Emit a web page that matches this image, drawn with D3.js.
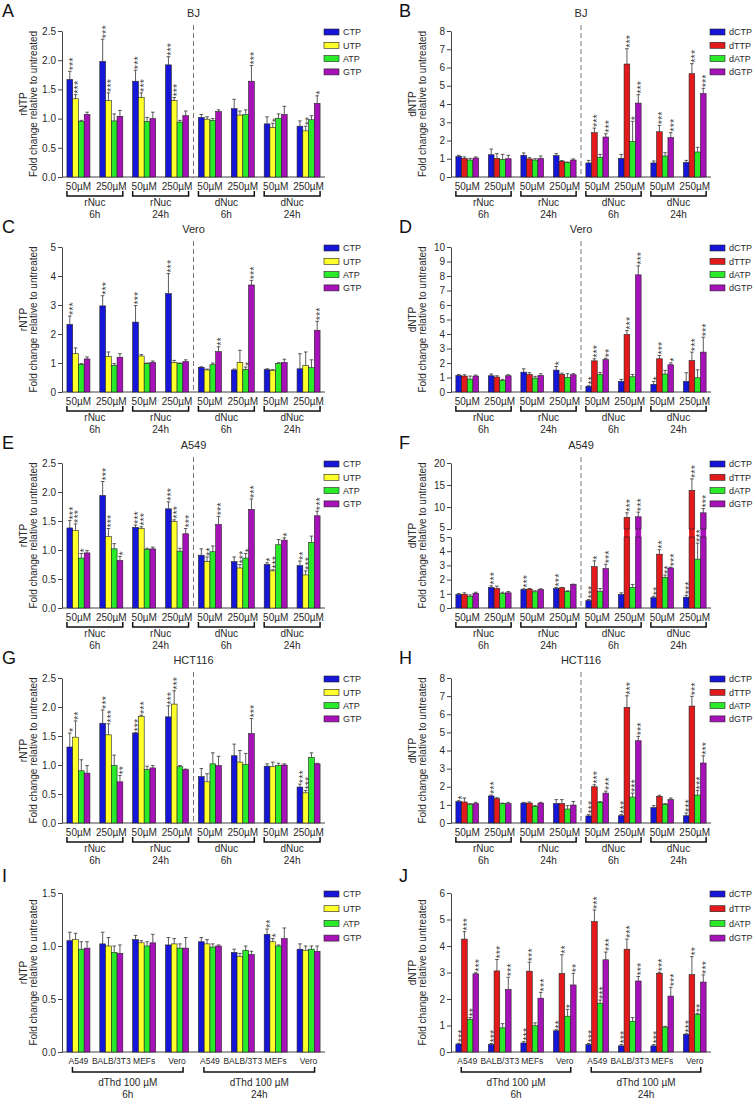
<!DOCTYPE html>
<html>
<head>
<meta charset="utf-8">
<script src="https://cdn.jsdelivr.net/npm/d3@7"></script>
<style>
  body { margin: 0; background: #fff; }
  svg { font-family: "Liberation Sans", Arial, sans-serif; }
</style>
</head>
<body>
<div class="plot"></div>
<script>
// categories and labels
const doses = ["50µM", "250µM", "50µM", "250µM", "50µM", "250µM", "50µM", "250µM"];
const treatments = ["rNuc", "rNuc", "dNuc", "dNuc"];
const times = ["6h", "24h", "6h", "24h"];
const cellLines = ["A549", "BALB/3T3", "MEFs", "Vero", "A549", "BALB/3T3", "MEFs", "Vero"];
const dthdLabels = ["dThd 100 µM", "dThd 100 µM"];
const dthdTimes = ["6h", "24h"];
const rntpSeries = ["CTP", "UTP", "ATP", "GTP"];
const dntpSeries = ["dCTP", "dTTP", "dATP", "dGTP"];
const rntpColors = ["#1616d9", "#ffff2a", "#2aeb2a", "#a612b8"];
const dntpColors = ["#1616d9", "#e3191b", "#2aeb2a", "#a612b8"];

// A - BJ rNTP
const bjRntp = [
    [1.67, 1.98, 1.64, 1.92, 1.02, 1.17, 0.91, 0.87],
    [1.34, 1.31, 1.36, 1.31, 0.99, 1.06, 0.85, 0.79],
    [0.95, 0.96, 0.95, 0.94, 0.97, 1.07, 1.00, 0.98],
    [1.07, 1.04, 1.00, 1.05, 1.12, 1.64, 1.07, 1.26]
];
const bjRntpSd = [
    [0.14, 0.38, 0.19, 0.14, 0.05, 0.16, 0.12, 0.09],
    [0.07, 0.13, 0.08, 0.05, 0.04, 0.07, 0.07, 0.08],
    [0.02, 0.12, 0.07, 0.03, 0.03, 0.08, 0.08, 0.07],
    [0.04, 0.10, 0.11, 0.08, 0.03, 0.27, 0.14, 0.13]
];
const bjRntpSig = [
    ["***", "***", "***", "***", "", "", "", ""],
    ["***", "***", "***", "***", "", "", "*", "**"],
    ["", "", "", "", "", "", "", ""],
    ["", "", "", "", "", "***", "", "*"]
];

// B - BJ dNTP
const bjDntp = [
    [1.13, 1.22, 1.19, 1.17, 0.77, 1.02, 0.77, 0.80],
    [1.02, 1.02, 0.99, 0.86, 2.43, 6.19, 2.48, 5.66],
    [0.93, 0.97, 0.93, 0.79, 1.06, 1.94, 1.15, 1.37],
    [1.04, 1.00, 1.02, 0.93, 2.19, 4.05, 2.16, 4.57]
];
const bjDntpSd = [
    [0.06, 0.31, 0.13, 0.11, 0.14, 0.22, 0.11, 0.11],
    [0.08, 0.26, 0.07, 0.04, 0.25, 0.84, 0.35, 0.55],
    [0.09, 0.27, 0.07, 0.03, 0.18, 1.11, 0.18, 0.26],
    [0.06, 0.19, 0.13, 0.06, 0.18, 0.46, 0.27, 0.29]
];
const bjDntpSig = [
    ["", "", "", "", "", "", "", ""],
    ["", "", "", "", "***", "***", "***", "***"],
    ["", "", "", "", "", "*", "", ""],
    ["", "", "", "", "***", "***", "***", "***"]
];

// C - Vero rNTP
const veroRntp = [
    [2.33, 2.97, 2.41, 3.39, 0.85, 0.76, 0.77, 0.80],
    [1.32, 1.23, 1.24, 1.02, 0.76, 1.02, 0.74, 0.91],
    [0.95, 0.92, 0.98, 0.98, 0.94, 0.78, 0.98, 0.84],
    [1.14, 1.20, 1.02, 1.05, 1.39, 3.69, 1.02, 2.13]
];
const veroRntpSd = [
    [0.29, 0.35, 0.57, 0.69, 0.02, 0.03, 0.03, 0.52],
    [0.20, 0.15, 0.05, 0.07, 0.03, 0.42, 0.03, 0.47],
    [0.03, 0.06, 0.02, 0.02, 0.06, 0.08, 0.03, 0.27],
    [0.07, 0.12, 0.05, 0.06, 0.17, 0.16, 0.11, 0.31]
];
const veroRntpSig = [
    ["***", "***", "***", "***", "", "", "", ""],
    ["", "", "", "", "", "", "", ""],
    ["", "", "", "", "", "*", "", ""],
    ["", "", "", "", "**", "***", "", "***"]
];

// D - Vero dNTP
const veroDntp = [
    [1.14, 1.12, 1.37, 1.51, 0.39, 0.73, 0.53, 0.73],
    [1.10, 1.03, 1.21, 1.21, 2.15, 3.96, 2.29, 2.17],
    [0.89, 0.80, 0.96, 1.01, 1.19, 1.05, 1.24, 0.98],
    [1.10, 1.12, 1.14, 1.19, 2.24, 8.08, 1.88, 2.75]
];
const veroDntpSd = [
    [0.07, 0.12, 0.23, 0.25, 0.04, 0.14, 0.20, 0.60],
    [0.09, 0.09, 0.12, 0.09, 0.14, 0.27, 0.23, 0.58],
    [0.21, 0.07, 0.12, 0.25, 0.16, 0.16, 0.25, 0.55],
    [0.07, 0.07, 0.12, 0.07, 0.09, 0.62, 0.13, 1.03]
];
const veroDntpSig = [
    ["", "", "", "*", "**", "", "*", ""],
    ["", "", "", "", "***", "***", "***", "***"],
    ["", "", "", "", "", "", "", ""],
    ["", "", "", "", "**", "***", "*", "***"]
];

// E - A549 rNTP
const a549Rntp = [
    [1.38, 1.94, 1.39, 1.71, 0.91, 0.80, 0.75, 0.73],
    [1.34, 1.23, 1.37, 1.49, 0.80, 0.69, 0.64, 0.57],
    [0.86, 1.02, 1.01, 0.98, 0.97, 0.86, 1.09, 1.13],
    [0.95, 0.82, 1.02, 1.28, 1.44, 1.70, 1.17, 1.59]
];
const a549RntpSd = [
    [0.13, 0.24, 0.04, 0.12, 0.11, 0.08, 0.03, 0.08],
    [0.11, 0.14, 0.03, 0.03, 0.08, 0.06, 0.02, 0.07],
    [0.08, 0.09, 0.02, 0.05, 0.10, 0.08, 0.09, 0.11],
    [0.04, 0.07, 0.03, 0.09, 0.14, 0.18, 0.04, 0.08]
];
const a549RntpSig = [
    ["***", "***", "***", "***", "", "", "*", "**"],
    ["***", "***", "***", "***", "**", "***", "***", "***"],
    ["*", "", "", "", "", "*", "", ""],
    ["", "*", "", "***", "***", "***", "*", "***"]
];

// F - A549 dNTP (broken axis)
const a549Dntp = [
    [0.95, 1.45, 1.30, 1.37, 0.52, 0.95, 0.73, 0.76],
    [0.97, 1.37, 1.33, 1.42, 2.91, 7.63, 3.79, 13.78],
    [0.83, 1.02, 1.14, 1.16, 1.16, 1.45, 2.16, 3.44],
    [1.04, 1.07, 1.30, 1.66, 2.77, 7.78, 2.82, 8.68]
];
const a549DntpSd = [
    [0.07, 0.11, 0.05, 0.08, 0.07, 0.12, 0.10, 0.14],
    [0.10, 0.17, 0.04, 0.03, 0.41, 1.05, 0.31, 2.60],
    [0.09, 0.09, 0.07, 0.05, 0.21, 0.21, 0.16, 1.13],
    [0.07, 0.09, 0.05, 0.02, 0.31, 1.05, 0.05, 0.97]
];
const a549DntpSig = [
    ["", "***", "***", "***", "***", "", "**", "***"],
    ["", "", "", "", "*", "***", "**", "***"],
    ["", "", "", "", "", "", "**", "***"],
    ["", "", "", "", "***", "***", "***", "***"]
];

// G - HCT116 rNTP
const hctRntp = [
    [1.31, 1.72, 1.55, 1.83, 0.80, 1.16, 0.98, 0.62],
    [1.48, 1.52, 1.84, 2.05, 0.71, 1.05, 0.97, 0.52],
    [0.90, 0.99, 0.92, 0.97, 1.02, 1.01, 0.99, 1.13],
    [0.86, 0.71, 0.95, 0.92, 0.99, 1.54, 1.00, 1.02]
];
const hctRntpSd = [
    [0.24, 0.23, 0.01, 0.19, 0.14, 0.20, 0.04, 0.05],
    [0.28, 0.19, 0.02, 0.23, 0.14, 0.20, 0.08, 0.04],
    [0.19, 0.18, 0.06, 0.02, 0.19, 0.19, 0.04, 0.08],
    [0.13, 0.11, 0.04, 0.01, 0.16, 0.26, 0.02, 0.01]
];
const hctRntpSig = [
    ["*", "***", "***", "***", "", "", "", "***"],
    ["**", "***", "***", "***", "", "", "", "***"],
    ["", "", "", "", "", "", "", ""],
    ["", "**", "", "", "", "***", "", ""]
];

// H - HCT116 dNTP
const hctDntp = [
    [1.18, 1.49, 1.10, 1.07, 0.39, 0.40, 0.85, 0.40],
    [1.16, 1.34, 1.10, 1.07, 2.00, 6.38, 1.47, 6.45],
    [1.01, 1.07, 0.92, 0.77, 1.14, 1.43, 1.03, 1.54],
    [1.07, 1.07, 1.10, 0.99, 1.65, 4.54, 1.29, 3.31]
];
const hctDntpSd = [
    [0.05, 0.05, 0.04, 0.22, 0.07, 0.06, 0.11, 0.15],
    [0.22, 0.06, 0.06, 0.22, 0.11, 0.64, 0.06, 0.54],
    [0.06, 0.03, 0.05, 0.19, 0.04, 0.22, 0.04, 0.26],
    [0.07, 0.07, 0.04, 0.20, 0.11, 0.24, 0.09, 0.40]
];
const hctDntpSig = [
    ["*", "***", "", "", "***", "***", "", "***"],
    ["", "", "", "", "***", "***", "", "***"],
    ["", "", "", "", "", "***", "", "***"],
    ["", "", "", "", "***", "***", "", "***"]
];

// I - dThd rNTP
const dthdRntp = [
    [1.05, 1.02, 1.06, 1.01, 1.04, 0.94, 1.11, 0.97],
    [1.06, 1.00, 1.03, 1.02, 1.02, 0.90, 1.04, 0.96],
    [0.97, 0.94, 1.00, 0.98, 0.99, 0.96, 1.00, 0.97],
    [0.98, 0.93, 1.03, 0.98, 1.00, 0.92, 1.07, 0.95]
];
const dthdRntpSd = [
    [0.08, 0.11, 0.04, 0.07, 0.04, 0.03, 0.05, 0.05],
    [0.06, 0.08, 0.02, 0.05, 0.04, 0.03, 0.03, 0.04],
    [0.07, 0.06, 0.04, 0.04, 0.03, 0.04, 0.01, 0.03],
    [0.06, 0.08, 0.08, 0.10, 0.01, 0.03, 0.10, 0.05]
];
const dthdRntpSig = [
    ["", "", "", "", "", "", "**", ""],
    ["", "", "", "", "", "", "*", ""],
    ["", "", "", "", "", "", "", ""],
    ["", "", "", "", "", "", "", ""]
];

// J - dThd dNTP
const dthdDntp = [
    [0.30, 0.28, 0.34, 0.80, 0.28, 0.23, 0.23, 0.66],
    [4.26, 3.06, 3.05, 2.96, 4.92, 3.88, 2.97, 2.92],
    [1.23, 0.91, 0.99, 1.35, 1.84, 1.16, 0.94, 1.41],
    [2.95, 2.36, 2.03, 2.53, 3.48, 2.68, 2.11, 2.64]
];
const dthdDntpSd = [
    [0.03, 0.04, 0.05, 0.04, 0.04, 0.05, 0.05, 0.03],
    [0.28, 0.43, 0.34, 0.71, 0.44, 0.38, 0.04, 0.68],
    [0.07, 0.16, 0.11, 0.26, 0.12, 0.14, 0.03, 0.05],
    [0.04, 0.46, 0.22, 0.44, 0.29, 0.17, 0.33, 0.27]
];
const dthdDntpSig = [
    ["***", "***", "***", "**", "***", "***", "***", "***"],
    ["***", "***", "***", "**", "***", "***", "***", "**"],
    ["**", "", "", "*", "***", "", "", "**"],
    ["***", "***", "***", "**", "***", "***", "***", "***"]
];

// layout
const colX = [[62, 325], [451, 711]];
const rowY = [[31, 177], [247, 392], [463, 608], [678, 823], [893, 1052]];
const ink = "#2a2a2a";

const svg = d3
    .select(".plot")
    .append("svg")
    .attr("width", 754)
    .attr("height", 1102);

const panels = [
    { letter: "A", title: "BJ", col: 0, row: 0, series: rntpSeries, colors: rntpColors, vals: bjRntp, sd: bjRntpSd, sig: bjRntpSig, ticks: [0, 0.5, 1, 1.5, 2, 2.5], fmt: ".1f", ylab: "rNTP" },
    { letter: "B", title: "BJ", col: 1, row: 0, series: dntpSeries, colors: dntpColors, vals: bjDntp, sd: bjDntpSd, sig: bjDntpSig, ticks: d3.range(0, 9), fmt: "d", ylab: "dNTP" },
    { letter: "C", title: "Vero", col: 0, row: 1, series: rntpSeries, colors: rntpColors, vals: veroRntp, sd: veroRntpSd, sig: veroRntpSig, ticks: d3.range(0, 6), fmt: "d", ylab: "rNTP" },
    { letter: "D", title: "Vero", col: 1, row: 1, series: dntpSeries, colors: dntpColors, vals: veroDntp, sd: veroDntpSd, sig: veroDntpSig, ticks: d3.range(0, 11), fmt: "d", ylab: "dNTP" },
    { letter: "E", title: "A549", col: 0, row: 2, series: rntpSeries, colors: rntpColors, vals: a549Rntp, sd: a549RntpSd, sig: a549RntpSig, ticks: [0, 0.5, 1, 1.5, 2, 2.5], fmt: ".1f", ylab: "rNTP" },
    { letter: "F", title: "A549", col: 1, row: 2, series: dntpSeries, colors: dntpColors, vals: a549Dntp, sd: a549DntpSd, sig: a549DntpSig, ticks: d3.range(0, 6), upperTicks: [5, 10, 15, 20], fmt: "d", ylab: "dNTP", broken: { lowTop: 537, highBottom: 529 } },
    { letter: "G", title: "HCT116", col: 0, row: 3, series: rntpSeries, colors: rntpColors, vals: hctRntp, sd: hctRntpSd, sig: hctRntpSig, ticks: [0, 0.5, 1, 1.5, 2, 2.5], fmt: ".1f", ylab: "rNTP" },
    { letter: "H", title: "HCT116", col: 1, row: 3, series: dntpSeries, colors: dntpColors, vals: hctDntp, sd: hctDntpSd, sig: hctDntpSig, ticks: d3.range(0, 9), fmt: "d", ylab: "dNTP" },
    { letter: "I", col: 0, row: 4, series: rntpSeries, colors: rntpColors, vals: dthdRntp, sd: dthdRntpSd, sig: dthdRntpSig, ticks: [0, 0.5, 1, 1.5], fmt: ".1f", ylab: "rNTP", dthd: true },
    { letter: "J", col: 1, row: 4, series: dntpSeries, colors: dntpColors, vals: dthdDntp, sd: dthdDntpSd, sig: dthdDntpSig, ticks: d3.range(0, 7), fmt: "d", ylab: "dNTP", dthd: true }
];

panels.forEach(drawPanel);

function drawPanel(p) {
    const [x0, x1] = colX[p.col];
    const [yTop, yZero] = rowY[p.row];
    const g = svg.append("g");

    const x = d3.scaleBand().domain(d3.range(8)).range([x0, x1]).paddingInner(0.3).paddingOuter(0.15);
    const xs = d3.scaleBand().domain(d3.range(4)).range([0, x.bandwidth()]);
    const bw = xs.bandwidth();

    // y scales (one, or two for the broken axis)
    let yPos, yLow, yHigh;
    const axes = [];
    if (p.broken) {
        yLow = d3.scaleLinear().domain([0, 5]).range([yZero, p.broken.lowTop]);
        yHigh = d3.scaleLinear().domain([5, 20]).range([p.broken.highBottom, yTop]);
        yPos = (v) => (v > 5 ? yHigh(v) : yLow(v));
        axes.push([yLow, p.ticks, 1.5], [yHigh, p.upperTicks, -1.5]);
    } else {
        const y = d3.scaleLinear().domain([0, d3.max(p.ticks)]).range([yZero, yTop]);
        yPos = y;
        axes.push([y, p.ticks, 0]);
    }

    axes.forEach(([scale, ticks, nudge]) => {
        const ax = g.append("g")
            .attr("transform", `translate(${x0},0)`)
            .call(d3.axisLeft(scale).tickValues(ticks).tickFormat(d3.format(p.fmt)).tickSize(4).tickSizeOuter(0).tickPadding(2));
        ax.selectAll("path, line").attr("stroke", "#444");
        ax.selectAll("text")
            .attr("fill", ink)
            .style("font-size", "10px")
            .attr("y", (d) => (d === 5 ? nudge : 0));
    });

    // x axis line
    g.append("line")
        .attr("x1", x0).attr("x2", x1)
        .attr("y1", yZero).attr("y2", yZero)
        .attr("stroke", "#444");

    // dashed separator and title
    const midX = x0 + 4 * x.step();
    if (!p.dthd) {
        g.append("line")
            .attr("x1", midX).attr("x2", midX)
            .attr("y1", yTop - 6).attr("y2", yZero + 1)
            .attr("stroke", "#777")
            .attr("stroke-dasharray", "5,3");
        g.append("text")
            .attr("x", midX).attr("y", yTop - 14)
            .attr("text-anchor", "middle")
            .style("font-size", "11px")
            .attr("fill", ink)
            .text(p.title);
    }

    // panel letter
    g.append("text")
        .attr("x", p.col === 0 ? 2 : 399)
        .attr("y", p.dthd ? yTop - 11 : yTop - 14)
        .style("font-size", "18px")
        .attr("fill", "#111")
        .text(p.letter);

    // bars
    const items = [];
    p.vals.forEach((row, s) => row.forEach((v, i) => items.push({ s, i, v, e: p.sd[s][i], sig: p.sig[s][i] })));

    const bars = g.append("g");
    items.forEach((d) => {
        const bx = x(d.i) + xs(d.s);
        if (p.broken && d.v > 5) {
            bars.append("rect")
                .attr("x", bx).attr("y", p.broken.highBottom)
                .attr("width", bw).attr("height", p.broken.lowTop - p.broken.highBottom)
                .attr("fill", p.colors[d.s]);
            bars.append("rect")
                .attr("x", bx).attr("y", yLow(5))
                .attr("width", bw).attr("height", yZero - yLow(5))
                .attr("fill", p.colors[d.s]).attr("stroke", "#222").attr("stroke-width", 0.6);
            bars.append("rect")
                .attr("x", bx).attr("y", yHigh(d.v))
                .attr("width", bw).attr("height", p.broken.highBottom - yHigh(d.v))
                .attr("fill", p.colors[d.s]).attr("stroke", "#222").attr("stroke-width", 0.6);
        } else {
            bars.append("rect")
                .attr("x", bx).attr("y", yPos(d.v))
                .attr("width", bw).attr("height", yZero - yPos(d.v))
                .attr("fill", p.colors[d.s]).attr("stroke", "#222").attr("stroke-width", 0.6);
        }
        const cx = bx + bw / 2;
        const yErr = yPos(d.v + d.e);
        bars.append("path")
            .attr("d", `M${cx},${yPos(d.v)}V${yErr}M${cx - 1.8},${yErr}H${cx + 1.8}`)
            .attr("stroke", "#333").attr("stroke-width", 0.8).attr("fill", "none");
        if (d.sig) {
            bars.append("text")
                .attr("transform", `translate(${cx},${yErr - 1}) rotate(-90)`)
                .attr("dy", "0.62em")
                .style("font-size", "11px")
                .attr("fill", "#444")
                .text(d.sig);
        }
    });

    // category tick labels
    const catLabels = p.dthd ? cellLines : doses;
    g.selectAll(".cat")
        .data(catLabels)
        .join("text")
        .attr("x", (d, i) => x(i) + x.bandwidth() / 2)
        .attr("y", yZero + (p.dthd ? 12 : 13))
        .attr("text-anchor", "middle")
        .style("font-size", p.dthd ? "8.5px" : "10px")
        .attr("fill", ink)
        .text((d) => d);

    // brackets with group labels
    let brackets;
    if (p.dthd) {
        brackets = [0, 1].map((k) => ({
            l: x(k * 4) + x.bandwidth() / 2 - 6,
            r: x(k * 4 + 3) + x.bandwidth() / 2 + 6,
            top: dthdLabels[k],
            bottom: dthdTimes[k]
        }));
    } else {
        brackets = [0, 1, 2, 3].map((k) => ({
            l: x(k * 2),
            r: x(k * 2 + 1) + x.bandwidth(),
            top: treatments[k],
            bottom: times[k]
        }));
    }
    const by = p.dthd ? yZero + 15 : yZero + 14;
    brackets.forEach((b) => {
        g.append("path")
            .attr("d", `M${b.l},${by}V${by + 5}H${b.r}V${by}`)
            .attr("stroke", "#111").attr("stroke-width", 1.5).attr("fill", "none");
        g.append("text")
            .attr("x", (b.l + b.r) / 2).attr("y", by + (p.dthd ? 19 : 15))
            .attr("text-anchor", "middle").style("font-size", "10px").attr("fill", ink)
            .text(b.top);
        g.append("text")
            .attr("x", (b.l + b.r) / 2).attr("y", by + (p.dthd ? 31 : 27))
            .attr("text-anchor", "middle").style("font-size", "10px").attr("fill", ink)
            .text(b.bottom);
    });

    // y axis titles
    const yMid = (yTop + yZero) / 2;
    const lx = p.col === 0 ? 27 : 416;
    g.append("text")
        .attr("transform", `translate(${lx},${yMid}) rotate(-90)`)
        .attr("text-anchor", "middle").style("font-size", "10px").attr("fill", ink)
        .text(p.ylab);
    g.append("text")
        .attr("transform", `translate(${lx + 10},${yMid}) rotate(-90)`)
        .attr("text-anchor", "middle").style("font-size", "10px").attr("fill", ink)
        .text("Fold change relative to untreated");

    // legend
    const legX = p.col === 0 ? 324 : 710;
    const step = p.dthd ? 14.7 : 13.3;
    const leg = g.selectAll(".leg")
        .data(p.series)
        .join("g")
        .attr("transform", (d, i) => `translate(${legX},${yTop + 1 + i * step})`);
    leg.append("rect")
        .attr("x", 0).attr("y", -3)
        .attr("width", 15).attr("height", 6)
        .attr("fill", (d, i) => p.colors[i])
        .attr("stroke", "#222").attr("stroke-width", 0.6);
    leg.append("text")
        .attr("x", 19).attr("y", 3.3)
        .style("font-size", "9px").attr("fill", ink)
        .text((d) => d);
}
</script>
</body>
</html>
